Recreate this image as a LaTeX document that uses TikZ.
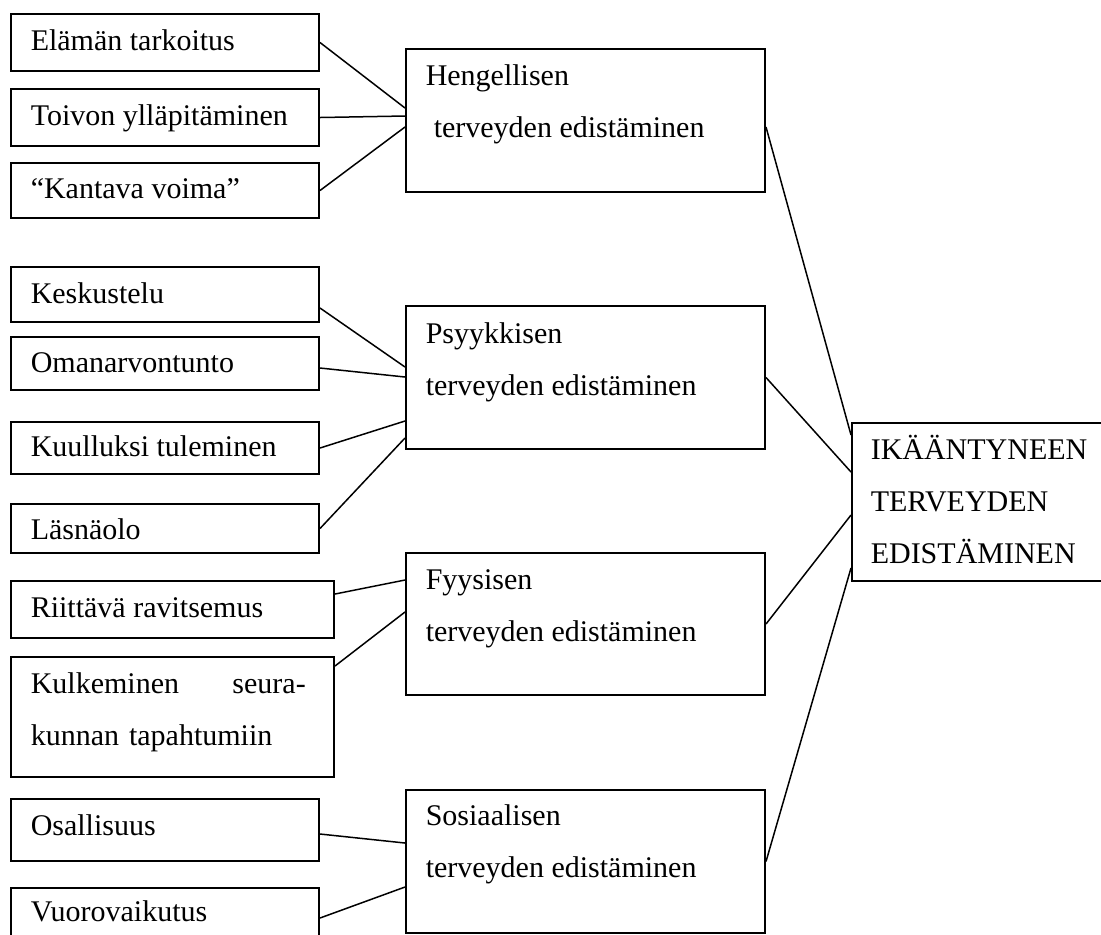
\documentclass[tikz,border=0pt]{standalone}
\usepackage{fontspec}
\setmainfont{Liberation Serif}
\usetikzlibrary{calc}
\tikzset{every picture/.style={line width=0.75pt}}
\tikzset{
    box/.style={draw, line width=1pt, anchor=north west, inner sep=0pt},
    txt/.style={anchor=base west, inner sep=0pt, align=left, font=\fontsize{15}{26}\selectfont},
}

\begin{document}
\begin{tikzpicture}[x=0.5pt, y=-0.5pt]
    \useasboundingbox (0,0) rectangle (1101,934);

    % hengellinen terveys
    \node[box, minimum width=154pt, minimum height=28.5pt] (elama) at (10,13) {};
    \node[box, minimum width=154pt, minimum height=28.5pt] (toivo) at (10,88) {};
    \node[box, minimum width=154pt, minimum height=27.5pt] (kantava) at (10,162) {};
    \node[txt] (elama-t) at ($(elama.north west)+(20,37)$) {Elämän tarkoitus};
    \node[txt] (toivo-t) at ($(toivo.north west)+(20,37)$) {Toivon ylläpitäminen};
    \node[txt] (kantava-t) at ($(kantava.north west)+(20,36)$) {“Kantava voima”};

    % psyykkinen terveys
    \node[box, minimum width=154pt, minimum height=27.5pt] (kesk) at (10,266) {};
    \node[box, minimum width=154pt, minimum height=26.5pt] (oman) at (10,336) {};
    \node[box, minimum width=154pt, minimum height=26pt] (kuul) at (10,421) {};
    \node[box, minimum width=154pt, minimum height=24.5pt] (lasna) at (10,503) {};
    \node[txt] (kesk-t) at ($(kesk.north west)+(20,37)$) {Keskustelu};
    \node[txt] (oman-t) at ($(oman.north west)+(20,36)$) {Omanarvontunto};
    \node[txt] (kuul-t) at ($(kuul.north west)+(20,35)$) {Kuulluksi tuleminen};
    \node[txt] (lasna-t) at ($(lasna.north west)+(20,36)$) {Läsnäolo};

    % fyysinen terveys
    \node[box, minimum width=161.5pt, minimum height=28.5pt] (riitta) at (10,580) {};
    \node[box, minimum width=161.5pt, minimum height=60pt] (kulk) at (10,656) {};
    \node[txt] (riitta-t) at ($(riitta.north west)+(20,37)$) {Riittävä ravitsemus};
    \node[txt, text width=137.5pt] (kulk-t) at ($(kulk.north west)+(20,37)$)
        {Kulkeminen\hfill seura-\\kunnan tapahtumiin};

    % sosiaalinen terveys
    \node[box, minimum width=154pt, minimum height=31pt] (osal) at (10,798) {};
    \node[box, minimum width=154pt, minimum height=30pt] (vuoro) at (10,887) {};
    \node[txt] (osal-t) at ($(osal.north west)+(20,37)$) {Osallisuus};
    \node[txt] (vuoro-t) at ($(vuoro.north west)+(20,34)$) {Vuorovaikutus};

    % keskimmäiset laatikot (base = viimeinen rivi)
    \node[box, minimum width=179.5pt, minimum height=71.5pt] (heng) at (405,48) {};
    \node[box, minimum width=179.5pt, minimum height=71.5pt] (psyyk) at (405,305) {};
    \node[box, minimum width=179.5pt, minimum height=71pt] (fyys) at (405,552) {};
    \node[box, minimum width=179.5pt, minimum height=71.5pt] (sosi) at (405,789) {};
    \node[txt] (heng-t) at ($(heng.north west)+(20,89)$) {Hengellisen\\\hspace*{4pt}terveyden edistäminen};
    \node[txt] (psyyk-t) at ($(psyyk.north west)+(20,90)$) {Psyykkisen\\terveyden edistäminen};
    \node[txt] (fyys-t) at ($(fyys.north west)+(20,89)$) {Fyysisen\\terveyden edistäminen};
    \node[txt] (sosi-t) at ($(sosi.north west)+(20,88)$) {Sosiaalisen\\terveyden edistäminen};

    % kokonaisuus
    \node[box, minimum width=130pt, minimum height=79pt] (ika) at (851,422) {};
    \node[txt] (ika-t) at ($(ika.north west)+(19,141)$) {IKÄÄNTYNEEN\\TERVEYDEN\\EDISTÄMINEN};

    % yhdysviivat
    \draw (elama.east) -- ($(heng.north west)+(0,60)$);
    \draw (toivo.east) -- ($(heng.north west)+(0,68)$);
    \draw (kantava.east) -- ($(heng.north west)+(0,79)$);
    \draw ($(kesk.north east)+(0,42)$) -- ($(psyyk.north west)+(0,62)$);
    \draw ($(oman.north east)+(0,32)$) -- ($(psyyk.north west)+(0,72)$);
    \draw (kuul.east) -- ($(psyyk.north west)+(0,116)$);
    \draw (lasna.east) -- ($(psyyk.north west)+(0,133)$);
    \draw ($(riitta.north east)+(0,14)$) -- ($(fyys.north west)+(0,28)$);
    \draw ($(kulk.north east)+(0,10)$) -- ($(fyys.north west)+(0,60)$);
    \draw ($(osal.north east)+(0,36)$) -- ($(sosi.north west)+(0,54)$);
    \draw ($(vuoro.north east)+(0,31)$) -- ($(sosi.north west)+(0,98)$);
    \draw ($(heng.north east)+(0,79)$) -- ($(ika.north west)+(0,13)$);
    \draw (psyyk.east) -- ($(ika.north west)+(0,50)$);
    \draw (fyys.east) -- ($(ika.north west)+(0,93)$);
    \draw (sosi.east) -- ($(ika.north west)+(0,146)$);
\end{tikzpicture}
\end{document}
